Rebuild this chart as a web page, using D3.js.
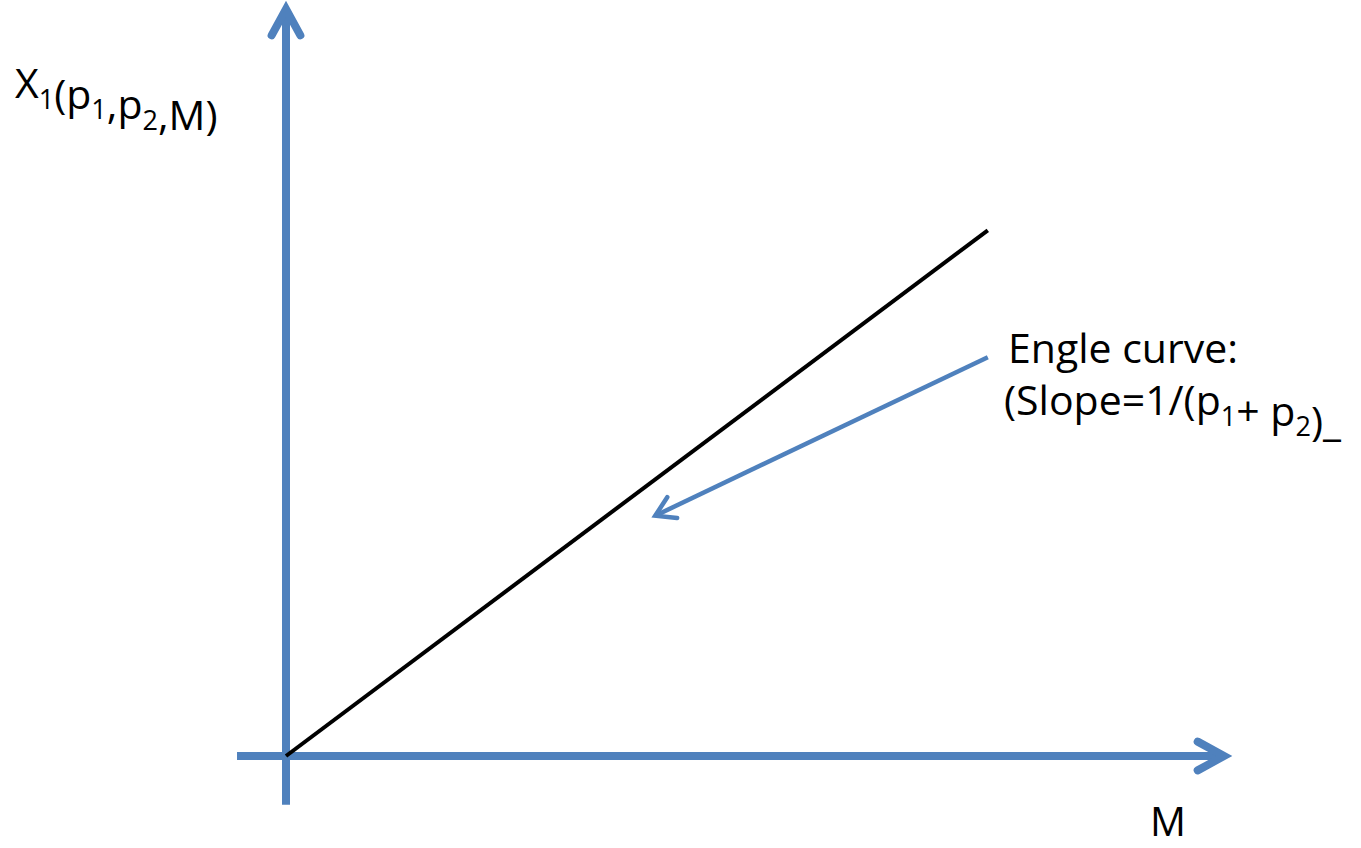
<!DOCTYPE html>
<html>
<head>
<meta charset="utf-8">
<script src="https://cdn.jsdelivr.net/npm/d3@7"></script>
<style>
  body { margin: 0; background: #fff; }
  text { font-family: "Open Sans", "Noto Sans", sans-serif; fill: #000; }
</style>
</head>
<body>
<div id="chart-area"></div>
<script>
// Data
const axisX = [-5.2, 100]          // M axis extent
const axisY = [-6.5, 100]          // X1 axis extent
const engelM = [0, 74.5]
const engelX1 = [0, 70]
const pointerM = [74.5, 39.2]
const pointerX1 = [53.1, 32.0]

// Config
const width = 1361, height = 848
const blue = "#4F81BD"

const svg = d3.select("#chart-area")
  .append("svg")
    .attr("width", width)
    .attr("height", height)

// Scales
const x = d3.scaleLinear().domain([0, 100]).range([286, 1228])
const y = d3.scaleLinear().domain([0, 100]).range([756, 5])

const line = d3.line().x(d => x(d[0])).y(d => y(d[1]))

// Open arrow head at the end of a segment
function arrowHead(p0, p1, len, spread) {
  const ang = Math.atan2(p1[1] - p0[1], p1[0] - p0[0])
  const a1 = ang + Math.PI - spread, a2 = ang + Math.PI + spread
  return [
    [p1[0] + len * Math.cos(a1), p1[1] + len * Math.sin(a1)],
    p1,
    [p1[0] + len * Math.cos(a2), p1[1] + len * Math.sin(a2)]
  ]
}

// Axes
const xs = [[x(axisX[0]), y(0)], [x(axisX[1]), y(0)]]
const ys = [[x(0), y(axisY[0])], [x(0), y(axisY[1])]]

svg.append("path")
  .attr("d", d3.line()([xs[0], [xs[1][0] - 4, xs[1][1]]]))
  .attr("stroke", blue).attr("stroke-width", 8).attr("fill", "none")
svg.append("path")
  .attr("d", d3.line()(arrowHead(xs[0], [xs[1][0] - 4, xs[1][1]], 30, 0.5)))
  .attr("stroke", blue).attr("stroke-width", 8).attr("fill", "none")
  .attr("stroke-linecap", "round").attr("stroke-linejoin", "miter")

svg.append("path")
  .attr("d", d3.line()([ys[0], [ys[1][0], ys[1][1] + 4]]))
  .attr("stroke", blue).attr("stroke-width", 8).attr("fill", "none")
svg.append("path")
  .attr("d", d3.line()(arrowHead(ys[0], [ys[1][0], ys[1][1] + 4], 30, 0.5)))
  .attr("stroke", blue).attr("stroke-width", 8).attr("fill", "none")
  .attr("stroke-linecap", "round").attr("stroke-linejoin", "miter")

// Engel curve
svg.append("path")
  .attr("d", line(d3.zip(engelM, engelX1)))
  .attr("stroke", "#000").attr("stroke-width", 4).attr("fill", "none")

// Pointer arrow
const pa = [x(pointerM[0]), y(pointerX1[0])], pb = [x(pointerM[1]), y(pointerX1[1])]
svg.append("path")
  .attr("d", d3.line()([pa, pb]))
  .attr("stroke", blue).attr("stroke-width", 4.5).attr("fill", "none")
svg.append("path")
  .attr("d", d3.line()(arrowHead(pa, pb, 22, 0.55)))
  .attr("stroke", blue).attr("stroke-width", 4.5).attr("fill", "none")
  .attr("stroke-linecap", "round").attr("stroke-linejoin", "miter")

// Labels
function label(xp, yp, parts, size) {
  const t = svg.append("text").attr("x", xp).attr("y", yp).style("font-size", size + "px")
  parts.forEach(p => {
    if (p.sub) {
      t.append("tspan").attr("dy", size * 0.26).style("font-size", (size * 0.66) + "px").text(p.t)
      t.append("tspan").attr("dy", -size * 0.26).text("")
    } else {
      t.append("tspan").text(p.t)
    }
  })
  return t
}

label(15, 98, [{t: "X"}, {t: "1", sub: true}, {t: "(p"}, {t: "1", sub: true}, {t: ",p"}, {t: "2", sub: true}, {t: ",M)"}], 41)
label(1008, 363, [{t: "Engle curve:"}], 41)
label(1004, 415, [{t: "(Slope=1/(p"}, {t: "1", sub: true}, {t: "+ p"}, {t: "2", sub: true}, {t: ")_"}], 41)
label(1150, 836, [{t: "M"}], 40)
</script>
</body>
</html>
